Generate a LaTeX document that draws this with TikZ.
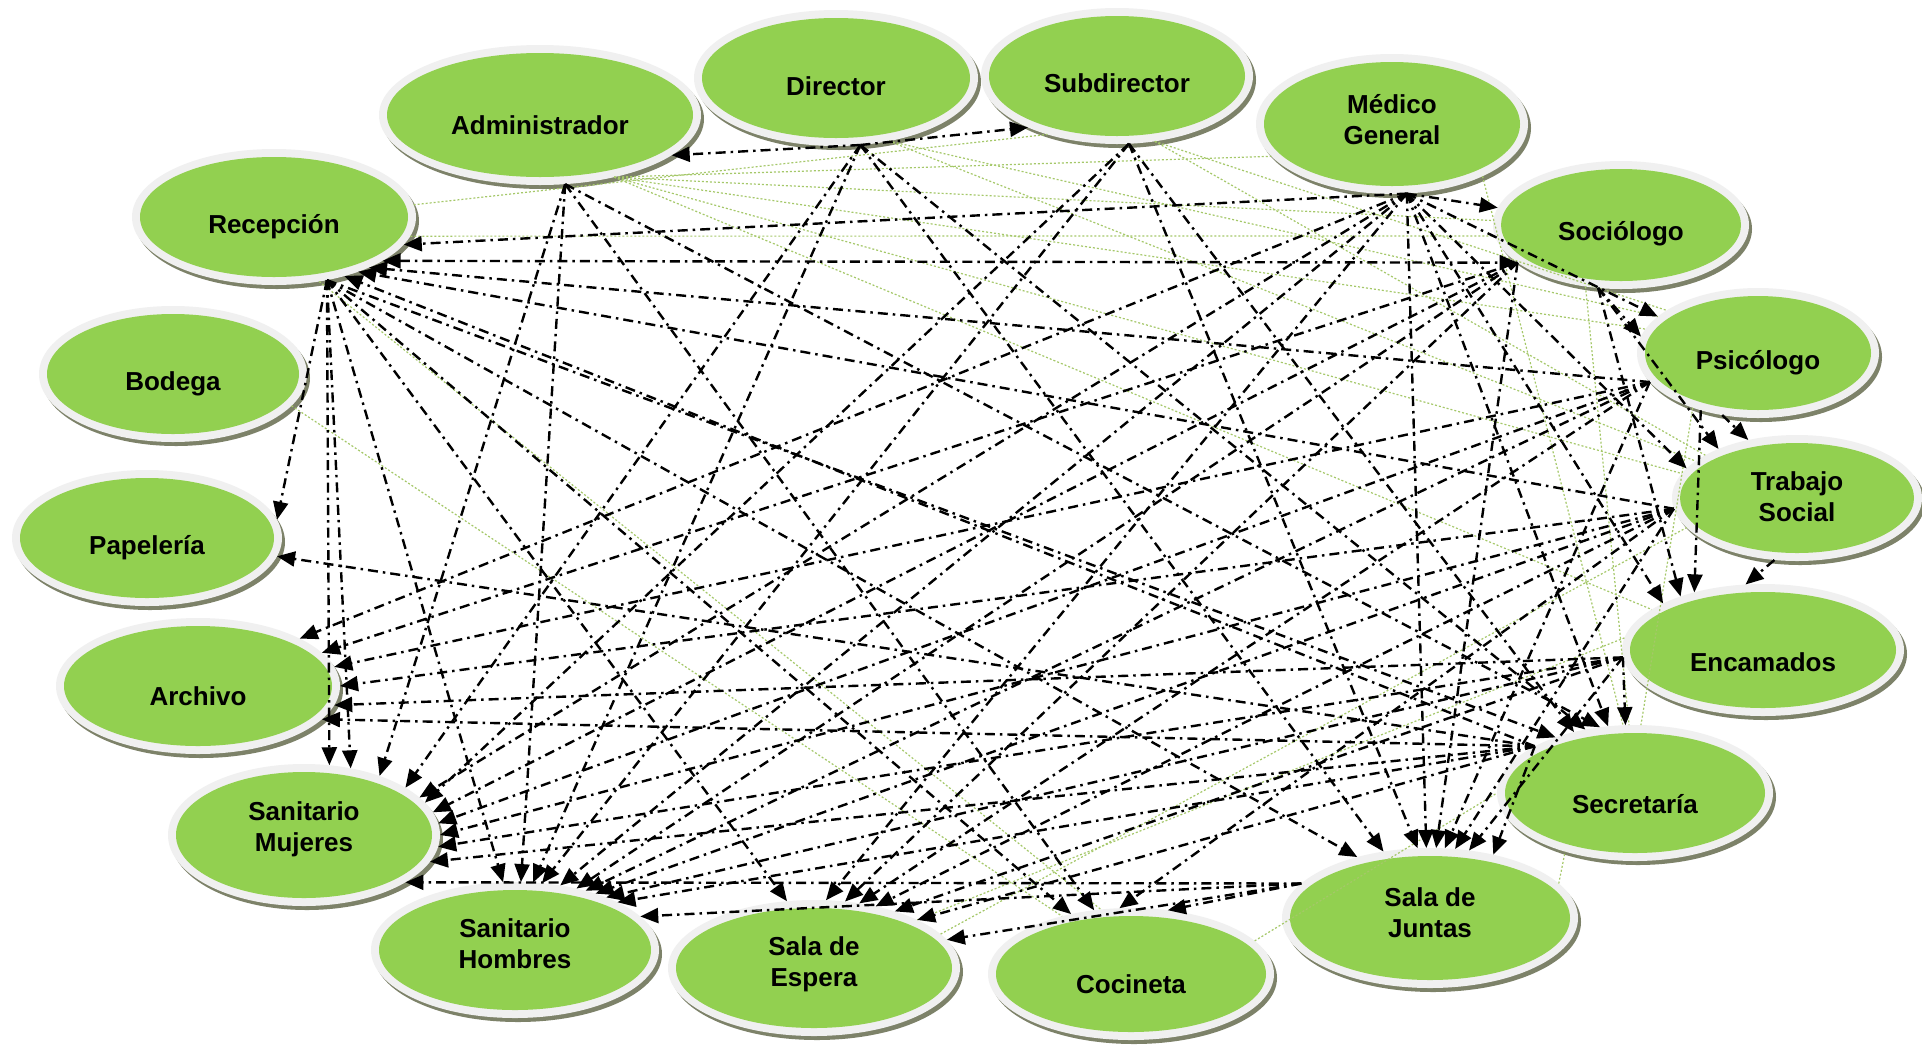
\documentclass[tikz,border=0pt]{standalone}
\usepackage{fontspec}
\setmainfont{Liberation Sans}
\usetikzlibrary{shapes.geometric,arrows.meta}
\definecolor{verde}{RGB}{146,208,80}
\definecolor{anillo}{RGB}{240,240,240}
\definecolor{sombra}{RGB}{125,130,105}
\definecolor{verdeclaro}{RGB}{165,200,105}
\newcommand\lugar[7]{%
  \fill[sombra] ({#2+3},{#3+4}) ellipse ({#4pt+8pt} and {#5pt+8pt});
  \node[anillonodo, minimum width={2*#4pt+16pt}, minimum height={2*#5pt+16pt}] (#1) at (#2,#3) {};
  \fill[verde] (#2,#3) ellipse ({#4pt} and {#5pt});
  \node[etiqueta] at (#2,#6) {#7};
}
\begin{document}
\begin{tikzpicture}[x=1pt,y=-1pt,
  anillonodo/.style={ellipse,fill=anillo,draw=none,inner sep=0pt,outer sep=0pt},
  etiqueta/.style={font=\bfseries\fontsize{26}{31}\selectfont,align=center,text=black,inner sep=0pt},
  flecha/.style={draw=black,line width=2.4pt,dash pattern=on 10pt off 5pt on 2.5pt off 5pt,-{Triangle[length=18pt,width=15pt]}},
  doble/.style={draw=black,line width=2.4pt,dash pattern=on 10pt off 5pt on 2.5pt off 5pt,{Triangle[length=18pt,width=15pt]}-{Triangle[length=18pt,width=15pt]}},
  tenue/.style={draw=verdeclaro,line width=1.2pt,dash pattern=on 2pt off 2pt}]
\useasboundingbox (0,0) rectangle (1922,1045);
\fill[white] (0,0) rectangle (1922,1045);

\lugar{adm}{540}{115}{153}{62}{125}{Administrador}
\lugar{dir}{836}{78}{134}{60}{86}{Director}
\lugar{sub}{1117}{76}{128}{60}{83}{Subdirector}
\lugar{med}{1392}{124}{128}{62}{120}{Médico\\General}
\lugar{rec}{274}{217}{134}{60}{227}{Recepción}
\lugar{soc}{1621}{225}{120}{56}{234}{Sociólogo}
\lugar{psi}{1758}{353}{113}{57}{363}{Psicólogo}
\lugar{bod}{173}{374}{126}{60}{384}{Bodega}
\lugar{ts}{1797}{498}{117}{55}{497}{Trabajo\\Social}
\lugar{pap}{147}{538}{127}{60}{548}{Papelería}
\lugar{enc}{1763}{650}{133}{58}{662}{Encamados}
\lugar{arc}{198}{686}{134}{60}{696}{Archivo}
\lugar{sec}{1635}{793}{130}{60}{804}{Secretaría}
\lugar{sm}{304}{835}{128}{63}{829}{Sanitario\\Mujeres}
\lugar{sh}{515}{950}{136}{60}{944}{Sanitario\\Hombres}
\lugar{se}{814}{968}{138}{60}{964}{Sala de\\Espera}
\lugar{coc}{1131}{974}{135}{58}{984}{Cocineta}
\lugar{sj}{1430}{918}{140}{62}{913}{Sala de\\Juntas}

% light green dotted links
\foreach \s/\t in {adm.-40/med.-165, adm.-40/soc.178, adm.-40/psi.168, adm.-40/ts.168, adm.-40/enc.160,
  dir.-50/psi.160, dir.-50/ts.160, sub.-60/psi.155, sub.-60/ts.155,
  rec.5/sub.-140, rec.-8/soc.-175, bod.-15/coc.140, rec.-55/coc.115,
  med.-30/sec.100, soc.-120/sec.95, psi.-140/sec.85, enc.175/se.25,
  se.15/ts.-165, coc.15/sec.180, sj.15/sec.-140}
  \draw[tenue] (\s) -- (\t);

% dash-dot arrows
\foreach \s/\t in {rec.-50/pap.8, rec.-50/sm.70, rec.-50/sm.55, rec.-50/sh.100, rec.-50/se.112,
  rec.-50/coc.135, rec.-50/sj.140, rec.-50/sec.145,
  adm.-70/sm.38, adm.-70/sh.85, adm.-70/coc.120, adm.-70/sec.118,
  dir.-70/adm.-17, dir.-70/sub.-150, dir.-70/sm.25, dir.-70/sh.75, dir.-70/sj.125, dir.-70/sec.128,
  sub.-80/sm.15, sub.-80/sh.68, sub.-80/sj.100, sub.-80/sec.135,
  med.-78/rec.-12, med.-78/arc.25, med.-78/sm.18, med.-78/sh.55, med.-78/se.80, med.-78/soc.172,
  med.-78/psi.160, med.-78/ts.165, med.-78/enc.155, med.-78/sj.93, med.-78/sec.112,
  soc.-160/arc.15, soc.-160/sm.10, soc.-160/sh.45, soc.-160/se.65, soc.-160/sj.85,
  soc.-110/ts.148, soc.-110/enc.147, soc.-110/psi.172,
  psi.-165/rec.-28, psi.-165/arc.8, psi.-165/sm.5, psi.-165/sh.40, psi.-165/se.55, psi.-165/sj.78,
  psi.-135/enc.140, psi.-120/ts.130,
  ts.-175/rec.-33, ts.-175/arc.0, ts.-175/sm.0, ts.-175/sh.35, ts.-175/se.45, ts.-175/coc.100, ts.-175/sj.70,
  ts.-110/enc.105,
  enc.-177/arc.-8, enc.-177/sm.-5, enc.-177/sh.30, enc.-177/se.35, enc.-177/sj.60, enc.-177/sec.98,
  sec.155/rec.-40, sec.155/pap.-8, sec.155/arc.-15, sec.155/sm.-12, sec.155/sh.25, sec.155/se.25, sec.155/sj.45,
  sj.165/sm.-25, sj.165/sh.15, sj.165/se.12, sj.165/coc.60}
  \draw[flecha] (\s) -- (\t);
\draw[doble] (rec.-22) -- (soc.-160);
\end{tikzpicture}
\end{document}
